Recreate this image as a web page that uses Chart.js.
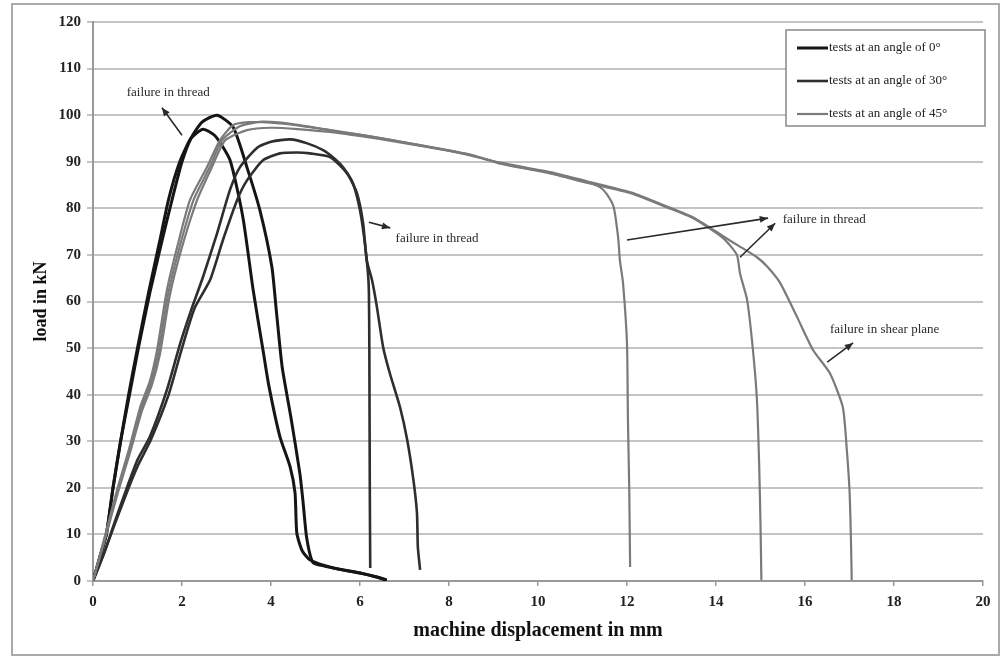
<!DOCTYPE html>
<html>
<head>
<meta charset="utf-8">
<title>Load - displacement curves</title>
<script src="https://cdn.jsdelivr.net/npm/chart.js@4.4.1/dist/chart.umd.min.js"></script>
<style>
  html, body { margin: 0; padding: 0; background: #fff; }
  #wrap { position: relative; width: 1002px; height: 659px; }
  #frame {
    position: absolute; left: 11px; top: 3px; width: 989px; height: 653px;
    border: 2px solid #aaa; box-sizing: border-box; pointer-events: none;
  }
  canvas { position: absolute; left: 0; top: 0; }
</style>
</head>
<body>
<div id="wrap">
  <canvas id="loadChart" width="1002" height="659"></canvas>
  <div id="frame"></div>
</div>
<script>
//Axis ticks
const dispTicks = [0, 2, 4, 6, 8, 10, 12, 14, 16, 18, 20];
const loadTicks = [0, 10, 20, 30, 40, 50, 60, 70, 80, 90, 100, 110, 120];

//Legend text, one per test angle
const seriesNames = ["tests at an angle of 0°", "tests at an angle of 30°", "tests at an angle of 45°"];

//0 degree tests
const disp0a = [0, 0.15, 0.3, 0.45, 0.62, 0.8, 1.0, 1.25, 1.5, 1.7, 1.95, 2.2, 2.47, 2.75, 3.08, 3.37, 3.6, 3.82, 3.95, 4.2, 4.43, 4.54, 4.58, 4.7, 4.88, 5.4, 6.0, 6.35, 6.6];
const load0a = [0, 5, 10, 20, 30, 40, 50, 62, 73, 82, 90, 95, 97, 95.5, 90.3, 78, 62.4, 49.6, 42, 31, 24.5, 18.9, 10.3, 6.5, 4.5, 2.8, 1.7, 0.9, 0.2];
const disp0b = [0, 0.15, 0.3, 0.45, 0.62, 0.82, 1.02, 1.28, 1.55, 1.78, 2.0, 2.2, 2.45, 2.79, 3.15, 3.46, 3.75, 4.02, 4.12, 4.25, 4.45, 4.65, 4.72, 4.8, 4.94, 5.2, 5.5, 6.0, 6.35, 6.6];
const load0b = [0, 5, 10, 20, 30, 40, 50, 62, 73, 82, 90, 95, 98.5, 100, 97.4, 88.8, 79.6, 67.4, 58, 46, 35, 23, 17, 9.4, 4, 3.2, 2.6, 1.7, 0.9, 0.2];

//30 degree tests
const disp30a = [0, 0.25, 0.5, 0.76, 1.0, 1.28, 1.66, 1.96, 2.2, 2.47, 2.79, 3.08, 3.3, 3.69, 4.0, 4.43, 4.8, 5.17, 5.45, 5.62, 5.84, 6.0, 6.11, 6.18, 6.2, 6.21, 6.22, 6.23];
const load30a = [0, 6, 13, 20, 26, 31, 41, 51, 58, 65.2, 74.7, 84, 88.8, 93, 94.3, 94.8, 94, 92.5, 90.5, 88.8, 85.4, 79.6, 72.5, 66, 62, 50, 20, 2.8];
const disp30b = [0, 0.25, 0.5, 0.78, 1.02, 1.3, 1.7, 2.0, 2.28, 2.63, 2.92, 3.24, 3.46, 3.82, 4.2, 4.58, 4.88, 5.33, 5.71, 5.93, 6.07, 6.15, 6.27, 6.38, 6.52, 6.67, 6.9, 7.06, 7.2, 7.28, 7.3, 7.35];
const load30b = [0, 6, 12.5, 19.5, 25, 30.3, 40, 50, 58.5, 64.6, 73.2, 81.8, 86, 90.3, 91.8, 92, 91.8, 91, 87.5, 83.3, 76.8, 68.9, 64.6, 58.8, 50.2, 44.6, 37.3, 30.3, 21.7, 14.6, 7.3, 2.4];

//45 degree tests
const disp45a = [0, 0.25, 0.54, 0.8, 1.06, 1.28, 1.44, 1.66, 1.9, 2.18, 2.56, 2.85, 3.15, 3.5, 4.0, 4.6, 5.5, 6.5, 7.5, 8.5, 9.15, 10.27, 11.1, 11.4, 11.55, 11.7, 11.8, 11.84, 11.91, 12.0, 12.02, 12.05, 12.07];
const load45a = [0, 9, 19.5, 28, 37.3, 43, 49.6, 62.4, 72, 81.8, 88.8, 94.6, 97.9, 98.5, 98.4, 97.8, 96.5, 95, 93.3, 91.5, 89.7, 87.6, 85.6, 84.5, 83, 80.3, 73.8, 68.9, 64, 51, 35.2, 20, 3];
const disp45b = [0, 0.27, 0.56, 0.83, 1.1, 1.32, 1.5, 1.72, 1.98, 2.34, 2.67, 2.97, 3.46, 4.0, 4.6, 5.5, 6.5, 7.5, 8.5, 9.15, 10.27, 11.1, 12.1, 12.9, 13.5, 14.16, 14.47, 14.54, 14.7, 14.83, 14.92, 14.97, 15.0, 15.02];
const load45b = [0, 9, 19, 27.5, 36.5, 42, 48.5, 61, 71, 81.8, 88.8, 94.6, 96.8, 97.3, 97, 96.2, 94.8, 93.2, 91.4, 89.6, 87.5, 85.5, 83.2, 80.2, 77.8, 73.6, 70, 66, 60.3, 49.6, 38.8, 25, 12, 0.2];
const disp45c = [0, 0.26, 0.55, 0.82, 1.08, 1.3, 1.47, 1.69, 1.94, 2.26, 2.62, 2.9, 3.3, 3.8, 4.4, 5.2, 6.2, 7.2, 8.2, 9.15, 10.27, 11.1, 12.1, 12.9, 13.5, 14.16, 14.5, 14.92, 15.15, 15.44, 15.82, 16.18, 16.56, 16.85, 16.94, 17.0, 17.03, 17.05];
const load45c = [0, 9, 19.2, 27.8, 37, 42.5, 49, 61.7, 71.5, 81.8, 88.8, 94.6, 97.6, 98.6, 98.2, 97, 95.5, 93.8, 92, 89.8, 87.8, 85.8, 83.4, 80.4, 78, 74, 72, 69.5, 67.5, 64, 56.7, 49.6, 44.6, 37.3, 28.1, 19.5, 10, 0.2];

//Line colour for each angle
const angleColors = ["#151515", "#2e2e2e", "#7a7a7a"];
const angleWidths = [3, 2.6, 2.2];

//Failure notes, placed in axis units
const notes = [
  { text: "failure in thread", at: [1.69, 104.8], align: "center", arrows: [[2.0, 95.7, 1.55, 101.6]] },
  { text: "failure in thread", at: [6.8, 73.6], align: "left", arrows: [[6.2, 77, 6.68, 75.8]] },
  { text: "failure in thread", at: [15.5, 77.6], align: "left", arrows: [[12.0, 73.2, 15.17, 77.9], [14.54, 69.5, 15.33, 76.8]] },
  { text: "failure in shear plane", at: [16.56, 53.9], align: "left", arrows: [[16.5, 47, 17.08, 51.1]] }
];

function toPoints(xs, ys) {
  return xs.map((x, i) => ({ x: x, y: ys[i] }));
}

function makeSet(xs, ys, angle) {
  return {
    label: seriesNames[angle],
    angle: angle,
    data: toPoints(xs, ys),
    borderColor: angleColors[angle],
    borderWidth: angleWidths[angle],
    pointRadius: 0,
    tension: 0.2,
    fill: false
  };
}

const datasets = [
  makeSet(disp45a, load45a, 2),
  makeSet(disp45b, load45b, 2),
  makeSet(disp45c, load45c, 2),
  makeSet(disp30a, load30a, 1),
  makeSet(disp30b, load30b, 1),
  makeSet(disp0a, load0a, 0),
  makeSet(disp0b, load0b, 0)
];

const serif = '"Liberation Serif", "DejaVu Serif", serif';

function drawArrow(ctx, x1, y1, x2, y2) {
  const ang = Math.atan2(y2 - y1, x2 - x1);
  ctx.beginPath();
  ctx.moveTo(x1, y1);
  ctx.lineTo(x2, y2);
  ctx.stroke();
  ctx.beginPath();
  ctx.moveTo(x2, y2);
  ctx.lineTo(x2 - 9 * Math.cos(ang - 0.4), y2 - 9 * Math.sin(ang - 0.4));
  ctx.lineTo(x2 - 9 * Math.cos(ang + 0.4), y2 - 9 * Math.sin(ang + 0.4));
  ctx.closePath();
  ctx.fill();
}

//Draws the failure labels with their arrows
const notesPlugin = {
  id: "notes",
  afterDatasetsDraw(chart) {
    const { ctx, scales } = chart;
    const x = scales.x, y = scales.y;
    ctx.save();
    ctx.font = "13px " + serif;
    ctx.fillStyle = "#2a2a2a";
    ctx.strokeStyle = "#2a2a2a";
    ctx.lineWidth = 1.6;
    ctx.textBaseline = "middle";
    notes.forEach((n) => {
      ctx.textAlign = n.align;
      ctx.fillText(n.text, x.getPixelForValue(n.at[0]), y.getPixelForValue(n.at[1]));
      n.arrows.forEach((a) => {
        drawArrow(ctx, x.getPixelForValue(a[0]), y.getPixelForValue(a[1]),
          x.getPixelForValue(a[2]), y.getPixelForValue(a[3]));
      });
    });
    ctx.restore();
  }
};

//Boxed legend in the top right corner of the plot
const boxLegend = {
  id: "boxLegend",
  afterDraw(chart) {
    const { ctx, chartArea } = chart;
    const left = chartArea.right - 197;
    const top = chartArea.top + 8;
    ctx.save();
    ctx.fillStyle = "#fff";
    ctx.fillRect(left, top, 199, 96);
    ctx.strokeStyle = "#888";
    ctx.lineWidth = 1.5;
    ctx.strokeRect(left, top, 199, 96);
    ctx.font = "13px " + serif;
    ctx.textBaseline = "middle";
    ctx.textAlign = "left";
    seriesNames.forEach((name, i) => {
      const ly = top + 18 + i * 33;
      ctx.strokeStyle = angleColors[i];
      ctx.lineWidth = angleWidths[i];
      ctx.beginPath();
      ctx.moveTo(left + 11, ly);
      ctx.lineTo(left + 42, ly);
      ctx.stroke();
      ctx.fillStyle = "#222";
      ctx.fillText(name, left + 43, ly);
    });
    ctx.restore();
  }
};

new Chart(document.getElementById("loadChart"), {
  type: "line",
  data: { datasets: datasets },
  plugins: [notesPlugin, boxLegend],
  options: {
    responsive: false,
    animation: false,
    layout: { padding: { top: 22, right: 19, left: 0, bottom: 0 } },
    plugins: {
      legend: { display: false },
      tooltip: { enabled: false }
    },
    scales: {
      x: {
        type: "linear",
        min: 0,
        max: 20,
        afterBuildTicks: (s) => { s.ticks = dispTicks.map((v) => ({ value: v })); },
        afterFit: (s) => { s.height = 78; },
        ticks: {
          autoSkip: false,
          maxRotation: 0,
          padding: 7,
          color: "#222",
          font: { family: serif, size: 15, weight: "bold" }
        },
        grid: { drawOnChartArea: false, drawTicks: true, tickLength: 5, color: "#999", lineWidth: 1.5 },
        border: { color: "#999", width: 2 },
        title: {
          display: true,
          text: "machine displacement in mm",
          color: "#111",
          font: { family: serif, size: 20, weight: "bold" },
          padding: { top: 0, bottom: 16 }
        }
      },
      y: {
        min: 0,
        max: 120,
        afterBuildTicks: (s) => { s.ticks = loadTicks.map((v) => ({ value: v })); },
        afterFit: (s) => { s.width = 93; },
        ticks: {
          padding: 6,
          color: "#222",
          font: { family: serif, size: 15, weight: "bold" }
        },
        grid: { color: "#c4c4c4", lineWidth: 2, tickLength: 6 },
        border: { color: "#999", width: 2 },
        title: {
          display: true,
          text: "load in kN",
          color: "#111",
          font: { family: serif, size: 18, weight: "bold" },
          padding: { top: 31, bottom: 0 }
        }
      }
    }
  }
});
</script>
</body>
</html>
